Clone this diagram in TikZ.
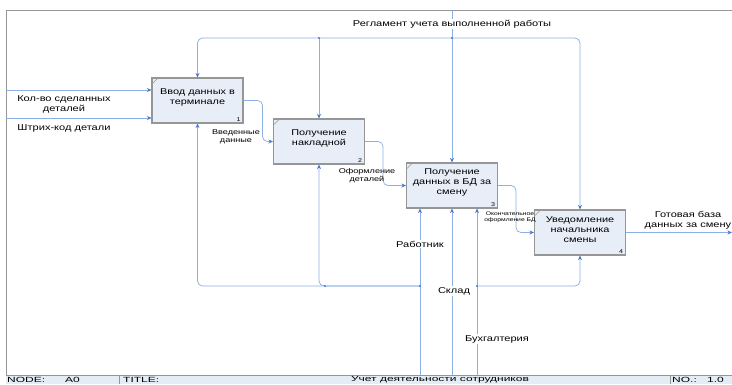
\documentclass[tikz,border=0pt]{standalone}
\usepackage{fontspec}
\setmainfont[FakeStretch=1.3]{Liberation Sans}
\newfontfamily\footfont[FakeStretch=1.6]{Liberation Sans}
\usetikzlibrary{arrows.meta,calc}
\definecolor{lineblue}{RGB}{140,175,230}
\definecolor{tipblue}{RGB}{75,120,205}
\definecolor{boxfill}{RGB}{232,238,248}
\definecolor{boxdraw}{RGB}{150,150,150}
\definecolor{footfill}{RGB}{228,236,246}
\begin{document}
\begin{tikzpicture}[x=1pt,y=-1pt,
  proc/.style={draw=boxdraw, line width=1.1pt, fill=boxfill, minimum width=91pt, minimum height=45pt, inner sep=0pt},
  boxtxt/.style={font=\fontsize{8.4}{10}\selectfont, align=center, inner sep=0pt},
  num/.style={font=\fontsize{5.5}{6}\selectfont, inner sep=0pt},
  conn/.style={draw=lineblue, line width=0.75pt, rounded corners=5pt},
  arr/.style={conn, -{Stealth[length=4.5pt,width=4pt,color=tipblue]}},
  lbl/.style={font=\fontsize{8.5}{10}\selectfont, align=center, inner sep=1pt},
  wlbl/.style={lbl, fill=white},
  smalllbl/.style={font=\fontsize{7}{8}\selectfont, align=center, inner sep=0.5pt},
  tinylbl/.style={font=\fontsize{5.2}{6.2}\selectfont, align=center, inner sep=0.5pt},
  foot/.style={font=\footfont\fontsize{7.5}{8}\selectfont, inner sep=0pt},
  jdot/.style={circle, fill=tipblue, inner sep=0pt, minimum size=2.4pt},
  corner/.style={draw=boxdraw, line width=0.5pt}
]
\useasboundingbox (0,0) rectangle (732,384);
% frame and footer
\draw[boxdraw, line width=0.8pt] (6,384) -- (6,10) -- (732,10);
\fill[footfill] (6,375) rectangle (732,384);
\draw[boxdraw, line width=0.6pt] (6,375) -- (732,375) (119,375) -- (119,384) (670,375) -- (670,384);
\node[foot, anchor=west] (fnode) at (7,379.5) {NODE:};
\node[foot, anchor=west] (fa0) at (65,379.5) {A0};
\node[foot, anchor=west] (ftitle) at (123,379.5) {TITLE:};
\node[foot] (fname) at (440,379.5) {Учет деятельности сотрудников};
\node[foot, anchor=west] (fno) at (672,379.5) {NO.:};
\node[foot, anchor=west] (fnum) at (707,379.5) {1.0};

% boxes
\node[proc] (b1) at (197.5,100.5) {};
\node[proc] (b2) at (319,141.5) {};
\node[proc] (b3) at (452,185.5) {};
\node[proc] (b4) at (580,232.5) {};
\node[boxtxt] (t1) at ($(b1)+(0,-3)$) {Ввод данных в\\терминале};
\node[boxtxt] (t2) at ($(b2)+(0,-3)$) {Получение\\накладной};
\node[boxtxt] (t3) at ($(b3)+(0,-3)$) {Получение\\данных в БД за\\смену};
\node[boxtxt] (t4) at ($(b4)+(0,-3)$) {Уведомление\\начальника\\смены};
\foreach \b/\n in {b1/1,b2/2,b3/3,b4/4}{
  \node[num] (n\n) at ($(\b.south east)+(-5,-4)$) {\n};
  \draw[corner] ($(\b.north west)+(1,6)$) -- ($(\b.north west)+(6,1)$);
}

% controls
\coordinate (ctop) at (452,10);
\coordinate (jc) at (452,38);
\draw[arr] (ctop) -- (b3.north);
\draw[arr] (jc) -| (b1.north);
\draw[arr] (jc) -| (b4.north);
\draw[arr] (b2.north |- jc) -- (b2.north);
\node[jdot] (d1) at (jc) {};
\node[jdot] (d2) at (b2.north |- jc) {};

% inputs
\coordinate (i1) at (6,90);
\coordinate (i2) at (6,118);
\draw[arr] (i1) -- (i1 -| b1.west);
\draw[arr] (i2) -- (i2 -| b1.west);

% flows between boxes
\draw[arr] (b1.east) -- ++(19,0) |- (b2.west);
\draw[arr] (b2.east) -- ++(18,0) |- (b3.west);
\draw[arr] (b3.east) -- ++(18,0) |- (b4.west);
\coordinate (o4) at (732,232.5);
\draw[arr] (b4.east) -- (o4);

% mechanisms
\coordinate (mw) at (420,375);
\coordinate (ms) at (452,375);
\coordinate (mb) at (477,375);
\coordinate (jw) at (420,286);
\coordinate (jb) at (477,286);
\draw[arr] (mw) -- (mw |- b3.south);
\draw[arr] (ms) -- (b3.south);
\draw[arr] (mb) -- (mb |- b3.south);
\draw[arr] (jw) -| (b2.south);
\draw[arr] (jw) -| (b1.south);
\draw[arr] (jb) -| (b4.south);
\node[jdot] (d3) at (jw) {};
\node[jdot] (d4) at (jb) {};
\node[jdot] (d5) at (325,286) {};

% labels
\node[wlbl] (lreg) at (452,24) {Регламент учета выполненной работы};
\node[wlbl] (lw) at (420,244) {Работник};
\node[wlbl] (ls) at (454,291) {Склад};
\node[wlbl] (lb) at (497,339) {Бухгалтерия};
\node[lbl] (lin1) at (64,104.5) {Кол-во сделанных\\деталей};
\node[lbl] (lin2) at (64,128) {Штрих-код детали};
\node[smalllbl] (l12) at (236,137) {Введенные\\данные};
\node[smalllbl] (l23) at (367,175.5) {Оформление\\деталей};
\node[tinylbl] (l34) at (510,217) {Окончательное\\оформление БД};
\node[lbl] (lout) at (688,220) {Готовая база\\данных за смену};
\end{tikzpicture}
\end{document}
